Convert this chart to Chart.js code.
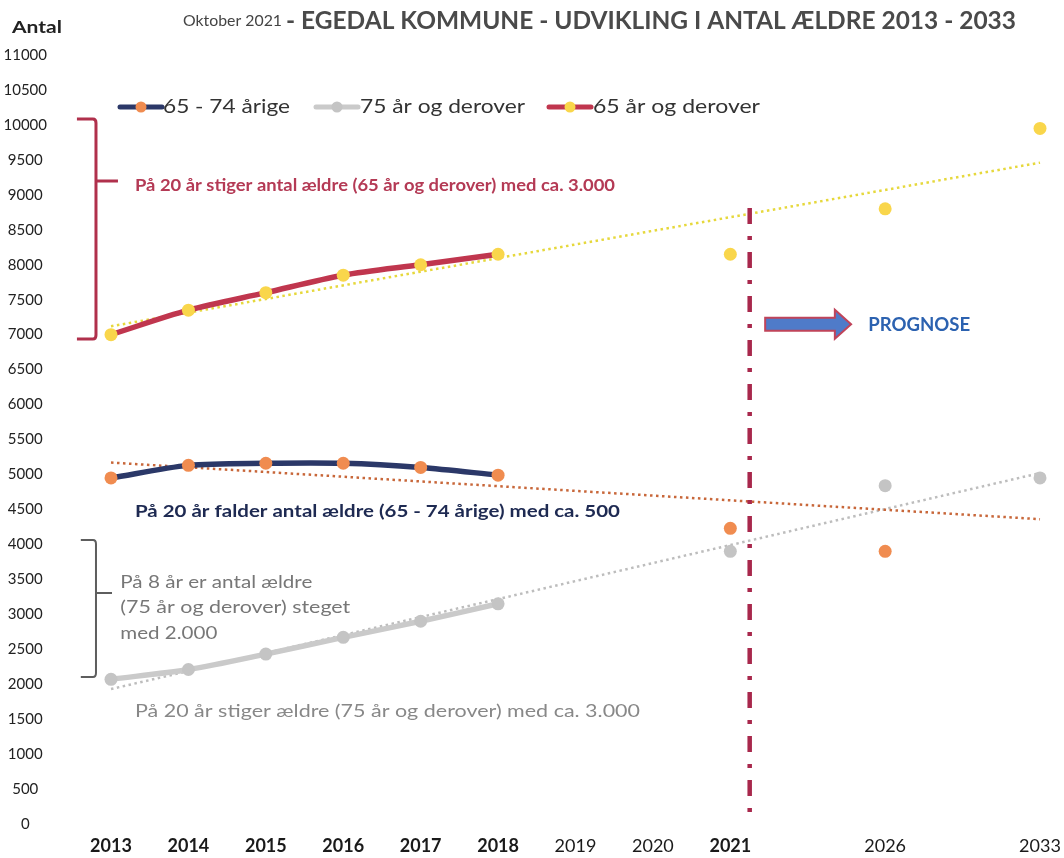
<!DOCTYPE html>
<html>
<head>
<meta charset="utf-8">
<script src="https://cdn.jsdelivr.net/npm/chart.js@4"></script>
<style>
  html, body { margin: 0; padding: 0; background: #fff; }
  #wrap { width: 1064px; height: 858px; }
</style>
</head>
<body>
<div id="wrap"><canvas id="myChart" width="1064" height="858"></canvas></div>
<script>
// aksens kategorier (tomme pladser holder afstanden til 2026 og 2033)
const tickLabels = ["2013", "2014", "2015", "2016", "2017", "2018", "2019", "2020", "2021", "", "2026", "", "2033"];
const boldYears = ["2013", "2014", "2015", "2016", "2017", "2018", "2021"];

// aflæste værdier
const aeldre6574 = [4950, 5130, 5160, 5160, 5100, 4990, null, null, 4230, null, 3900, null, null];
const aeldre75plus = [2070, 2210, 2430, 2670, 2900, 3150, null, null, 3900, null, 4840, null, 4950];
const aeldre65plus = [7000, 7350, 7600, 7850, 8000, 8150, null, null, 8150, null, 8800, null, 9950];

// tendenslinjer (start / slut)
const trend65plus = [7120, 9460];
const trend6574 = [5170, 4360];
const trend75plus = [1930, 5020];

const toPoints = (arr) => arr.map((v, i) => ({ x: i, y: v }));
const trendPoints = (arr) => [{ x: 0, y: arr[0] }, { x: tickLabels.length - 1, y: arr[1] }];

function tekst(ctx, str, left, midY, width, font, color) {
  ctx.save();
  ctx.font = font;
  ctx.fillStyle = color;
  ctx.textBaseline = "middle";
  ctx.textAlign = "left";
  const w = ctx.measureText(str).width;
  ctx.translate(left, midY);
  ctx.scale(width / w, 1);
  ctx.fillText(str, 0, 0);
  ctx.restore();
}

function klamme(ctx, x, y, xv, xHook, xTip, yTop, yTip, yBot, color, lw) {
  ctx.save();
  ctx.strokeStyle = color;
  ctx.lineWidth = lw;
  ctx.lineJoin = "round";
  ctx.beginPath();
  ctx.moveTo(x(xHook), y(yTop));
  ctx.lineTo(x(xv) - 3, y(yTop));
  ctx.quadraticCurveTo(x(xv), y(yTop), x(xv), y(yTop) + 4);
  ctx.lineTo(x(xv), y(yBot) - 4);
  ctx.quadraticCurveTo(x(xv), y(yBot), x(xv) - 3, y(yBot));
  ctx.lineTo(x(xHook), y(yBot));
  ctx.moveTo(x(xv), y(yTip));
  ctx.lineTo(x(xTip), y(yTip));
  ctx.stroke();
  ctx.restore();
}

const pynt = {
  id: "pynt",
  afterDatasetsDraw(chart) {
    const { ctx, scales } = chart;
    const x = (v) => scales.x.getPixelForValue(v);
    const y = (v) => scales.y.getPixelForValue(v);

    // lodret skillelinje ved prognosen
    ctx.save();
    ctx.strokeStyle = "#A8284C";
    ctx.lineWidth = 4.5;
    ctx.setLineDash([16, 12, 4, 12]);
    ctx.beginPath();
    ctx.moveTo(x(8.25), y(8810));
    ctx.lineTo(x(8.25), y(0));
    ctx.stroke();
    ctx.restore();

    // pil
    const ay = y(7150);
    ctx.save();
    ctx.fillStyle = "#4F7BC9";
    ctx.strokeStyle = "#C0445A";
    ctx.lineWidth = 2;
    ctx.beginPath();
    ctx.moveTo(x(8.45), ay - 6.5);
    ctx.lineTo(x(9.35), ay - 6.5);
    ctx.lineTo(x(9.35), ay - 14.5);
    ctx.lineTo(x(9.56), ay);
    ctx.lineTo(x(9.35), ay + 14.5);
    ctx.lineTo(x(9.35), ay + 6.5);
    ctx.lineTo(x(8.45), ay + 6.5);
    ctx.closePath();
    ctx.fill();
    ctx.stroke();
    ctx.restore();
    tekst(ctx, "PROGNOSE", x(9.78), y(7140), 102, "bold 18px Lato", "#2C62B0");

    // klammer
    klamme(ctx, x, y, -0.194, -0.44, 0.09, 10085, 9198, 6938, "#B0304C", 3);
    klamme(ctx, x, y, -0.194, -0.39, 0.013, 4062, 3304, 2103, "#5E5E5E", 2);

    // forklaringer
    tekst(ctx, "På 20 år stiger antal ældre (65 år og derover) med ca. 3.000", x(0.31), y(9140), 480, "bold 17px Lato", "#B43A55");
    tekst(ctx, "På 20 år falder antal ældre (65 - 74 årige) med ca. 500", x(0.31), y(4463), 485, "bold 17px Lato", "#1E2A52");
    tekst(ctx, "På 8 år er antal ældre", x(0.12), y(3460), 192, "17px Lato", "#777");
    tekst(ctx, "(75 år og derover) steget", x(0.12), y(3100), 230, "17px Lato", "#777");
    tekst(ctx, "med 2.000", x(0.12), y(2730), 97, "17px Lato", "#777");
    tekst(ctx, "På 20 år stiger ældre (75 år og derover) med ca. 3.000", x(0.31), y(1616), 505, "17px Lato", "#888");
  },
  afterDraw(chart) {
    const { ctx } = chart;
    tekst(ctx, "Antal", 12, 28, 50, "bold 17px Lato", "#222");
    tekst(ctx, "Oktober 2021", 183, 21, 99, "15px Lato", "#444");
    tekst(ctx, "- EGEDAL KOMMUNE - UDVIKLING I ANTAL ÆLDRE 2013 - 2033", 286, 21, 730, "bold 24px Lato", "#4A4A4A");

    // forklaring (legend)
    const items = [
      { x: 120, line: "#2B3868", dot: "#F08C50", text: "65 - 74 årige", tx: 163, w: 127 },
      { x: 316, line: "#CACACA", dot: "#C4C4C4", text: "75 år og derover", tx: 360, w: 165 },
      { x: 549, line: "#C0364E", dot: "#F9D64B", text: "65 år og derover", tx: 593, w: 167 },
    ];
    items.forEach((it) => {
      ctx.save();
      ctx.strokeStyle = it.line;
      ctx.lineWidth = 5;
      ctx.lineCap = "round";
      ctx.beginPath();
      ctx.moveTo(it.x, 107);
      ctx.lineTo(it.x + 42, 107);
      ctx.stroke();
      ctx.fillStyle = it.dot;
      ctx.beginPath();
      ctx.arc(it.x + 21, 107, 5.5, 0, Math.PI * 2);
      ctx.fill();
      ctx.restore();
      tekst(ctx, it.text, it.tx, 107, it.w, "20px Lato", "#333");
    });
  },
};

const ctx = document.getElementById("myChart").getContext("2d");
const graf = new Chart(ctx, {
  type: "line",
  data: {
    datasets: [
      {
        label: "65 år og derover",
        data: toPoints(aeldre65plus),
        borderColor: "#C0364E",
        borderWidth: 5.5,
        pointBackgroundColor: "#F9D64B",
        pointBorderWidth: 0,
        pointRadius: 6.5,
        tension: 0.3,
        clip: false,
      },
      {
        label: "65 - 74 årige",
        data: toPoints(aeldre6574),
        borderColor: "#2B3868",
        borderWidth: 5.5,
        pointBackgroundColor: "#F08C50",
        pointBorderWidth: 0,
        pointRadius: 6.5,
        tension: 0.3,
        clip: false,
      },
      {
        label: "75 år og derover",
        data: toPoints(aeldre75plus),
        borderColor: "#CACACA",
        borderWidth: 5.5,
        pointBackgroundColor: "#C4C4C4",
        pointBorderWidth: 0,
        pointRadius: 6.5,
        tension: 0.3,
        clip: false,
      },
      {
        label: "Tendens 65+",
        data: trendPoints(trend65plus),
        borderColor: "#E6D83C",
        borderWidth: 2.5,
        borderDash: [2.5, 3.5],
        pointRadius: 0,
        clip: false,
      },
      {
        label: "Tendens 65-74",
        data: trendPoints(trend6574),
        borderColor: "#C8673A",
        borderWidth: 2.5,
        borderDash: [2.5, 3.5],
        pointRadius: 0,
        clip: false,
      },
      {
        label: "Tendens 75+",
        data: trendPoints(trend75plus),
        borderColor: "#BDBDBD",
        borderWidth: 2.5,
        borderDash: [2.5, 3.5],
        pointRadius: 0,
        clip: false,
      },
    ],
  },
  options: {
    responsive: false,
    animation: false,
    devicePixelRatio: 1,
    layout: { padding: { top: 55, right: 24, bottom: 0, left: 0 } },
    plugins: {
      legend: { display: false },
      title: { display: false },
      tooltip: { enabled: false },
    },
    scales: {
      x: {
        type: "linear",
        min: 0,
        max: tickLabels.length - 1,
        grid: { display: false },
        border: { display: false },
        ticks: {
          stepSize: 1,
          autoSkip: false,
          maxRotation: 0,
          padding: 3,
          color: "#1A1A1A",
          callback: (v) => tickLabels[v] ?? "",
          font: (c) => ({
            family: "Lato",
            size: 18,
            weight: c.tick && boldYears.includes(tickLabels[c.tick.value]) ? "bold" : "normal",
          }),
        },
        afterFit: (s) => {
          s.height = 34;
          s.paddingLeft = 0;
          s.paddingRight = 0;
        },
      },
      y: {
        min: 0,
        max: 11000,
        grid: { display: false },
        border: { display: false },
        ticks: {
          stepSize: 500,
          crossAlign: "center",
          padding: 56,
          color: "#222",
          font: { family: "Lato", size: 15 },
          callback: (v) => String(v),
        },
        afterFit: (s) => {
          s.width = 111;
          s.paddingTop = 0;
          s.paddingBottom = 0;
        },
      },
    },
  },
  plugins: [pynt],
});
</script>
</body>
</html>
